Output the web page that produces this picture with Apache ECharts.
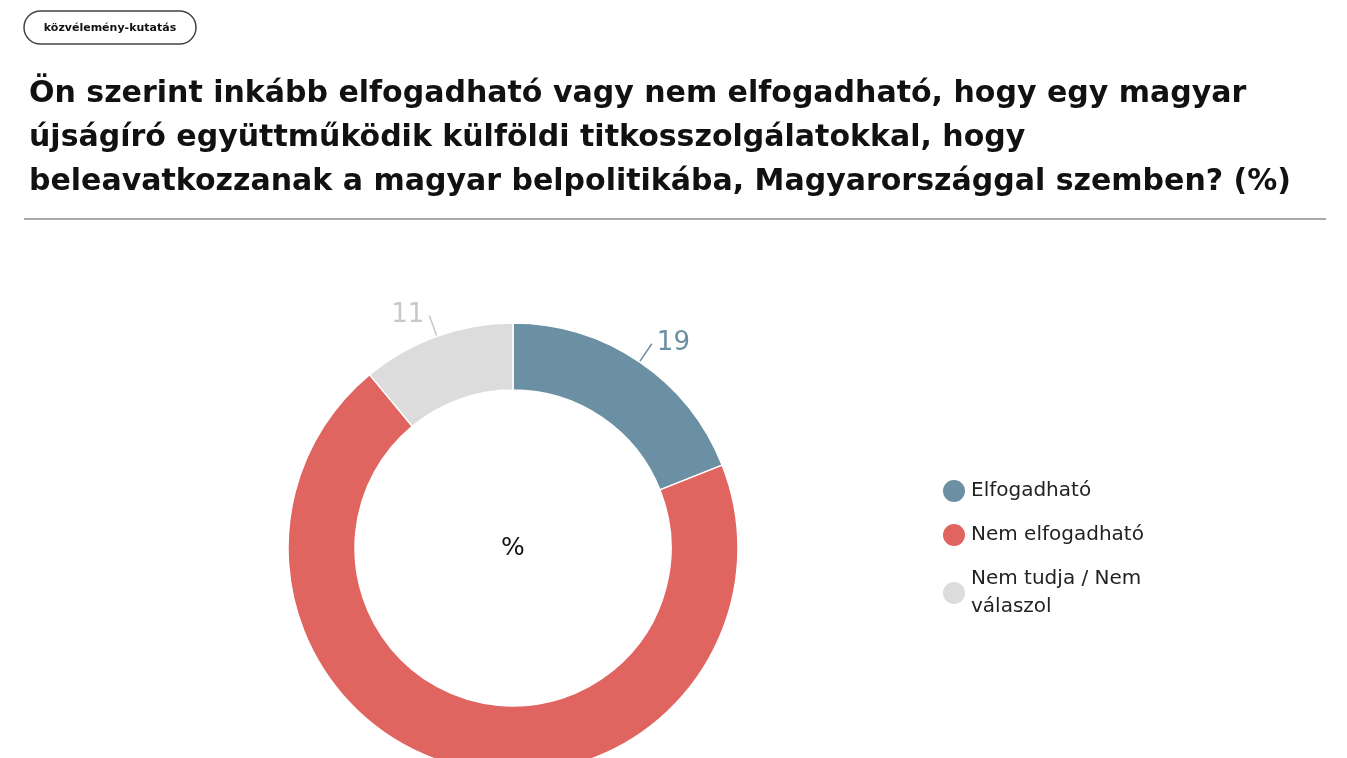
<!DOCTYPE html>
<html>
<head>
<meta charset="utf-8">
<script src="https://cdn.jsdelivr.net/npm/echarts@6/dist/echarts.min.js"></script>
<style>
html, body { margin: 0; padding: 0; background: #fff; }
#chart { width: 1347px; height: 758px; }
</style>
</head>
<body>
<div id="chart"></div>
<script>
var categories = ['Elfogadható', 'Nem elfogadható', 'Nem tudja / Nem válaszol'];
var values = [19, 70, 11];
var colors = ['#6b8fa3', '#e0645f', '#dcdcdc'];
var labelColors = ['#6b8fa3', '#e0645f', '#c8c8c8'];

var titleText = 'Ön szerint inkább elfogadható vagy nem elfogadható, hogy egy magyar\n' +
	'újságíró együttműködik külföldi titkosszolgálatokkal, hogy\n' +
	'beleavatkozzanak a magyar belpolitikába, Magyarországgal szemben? (%)';

var font = 'DejaVu Sans, Verdana, sans-serif';
var chart = echarts.init(document.getElementById('chart'));

var data = [];
for (var i = 0; i < categories.length; i++) {
	data.push({
		value: values[i],
		name: categories[i],
		itemStyle: { color: colors[i] },
		label: { color: labelColors[i] },
		labelLine: { lineStyle: { color: labelColors[i] } }
	});
}

var option = {
	textStyle: { fontFamily: font },
	title: {
		text: titleText,
		left: 24,
		top: 67,
		textStyle: { fontSize: 30, fontWeight: 'bold', color: '#111', lineHeight: 44, fontFamily: font }
	},
	graphic: [
		{
			type: 'rect',
			shape: { x: 24, y: 11, width: 172, height: 33, r: 16.5 },
			style: { fill: '#fff', stroke: '#444', lineWidth: 1.5 }
		},
		{
			type: 'text',
			x: 110, y: 28,
			style: { text: 'közvélemény-kutatás', fontSize: 11, fontWeight: 'bold', fill: '#111',
				align: 'center', verticalAlign: 'middle', fontFamily: font }
		},
		{
			type: 'line',
			shape: { x1: 24, y1: 219, x2: 1326, y2: 219 },
			style: { stroke: '#aaa', lineWidth: 2 }
		},
		{
			type: 'text',
			x: 513, y: 548,
			style: { text: '%', fontSize: 25, fill: '#111', align: 'center', verticalAlign: 'middle',
				fontFamily: font }
		}
	],
	legend: {
		orient: 'vertical',
		left: 936,
		top: 472,
		icon: 'circle',
		itemWidth: 24,
		itemHeight: 24,
		itemGap: 16,
		data: categories,
		formatter: function(name) {
			return name === categories[2] ? 'Nem tudja / Nem\nválaszol' : name;
		},
		textStyle: { fontSize: 20, color: '#222', lineHeight: 28, fontFamily: font }
	},
	series: [{
		type: 'pie',
		center: [513, 548],
		radius: [158, 225],
		startAngle: 90,
		clockwise: true,
		avoidLabelOverlap: false,
		silent: true,
		itemStyle: { borderColor: '#fff', borderWidth: 1.5 },
		label: { show: true, position: 'outside', formatter: '{c}', fontSize: 26, fontFamily: font },
		labelLine: { show: true, length: 22, length2: 0, smooth: true, lineStyle: { width: 1.5 } },
		data: data
	}]
};

chart.setOption(option);
</script>
</body>
</html>
